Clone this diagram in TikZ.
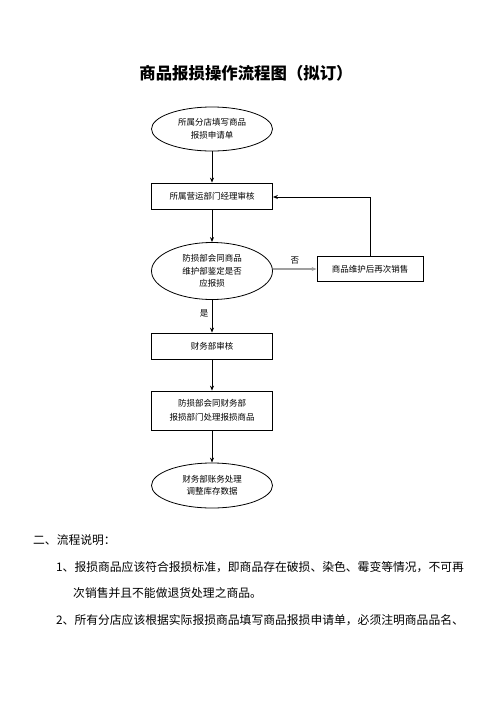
\documentclass[tikz,border=0pt]{standalone}
\usepackage{fontspec}
\usepackage{tikz}
\usetikzlibrary{shapes.geometric,arrows.meta}
\setmainfont{Noto Sans CJK SC}

\begin{document}
\begin{tikzpicture}[x=1pt,y=-1pt,
    stepbox/.style={draw,thick,rectangle,minimum width=121pt,inner sep=0pt,align=center,
        font=\fontsize{8.5}{12.5}\selectfont},
    oval/.style={draw,thick,ellipse,minimum width=121pt,inner sep=0pt,align=center,
        font=\fontsize{8.5}{12.5}\selectfont},
    flow/.style={thick,-{Stealth[length=5pt,width=4pt]}},
    para/.style={anchor=west,inner sep=0pt,font=\fontsize{11.8}{14}\selectfont}]
    \useasboundingbox (0,0) rectangle (496,702);
    \node (title) at (246,73) {\fontsize{16.4}{18}\selectfont\bfseries 商品报损操作流程图（拟订）};
    % flow chart
    \node[oval,minimum height=44pt] (apply) at (212,129) {所属分店填写商品\\报损申请单};
    \node[stepbox,minimum height=26pt] (manager) at (212,196) {所属营运部门经理审核};
    \node[oval,minimum height=57pt] (check) at (212,271) {防损部会同商品\\维护部鉴定是否\\应报损};
    \node[stepbox,minimum width=106pt,minimum height=25pt] (resell) at (370,269) {商品维护后再次销售};
    \node[stepbox,minimum height=26pt] (finance) at (212,346) {财务部审核};
    \node[stepbox,minimum height=39pt] (handle) at (212,410.5) {防损部会同财务部\\[2pt]报损部门处理报损商品};
    \node[oval,minimum height=45pt] (stock) at (212,485.5) {财务部账务处理\\调整库存数据};
    \draw[flow] (apply) -- (manager);
    \draw[flow] (manager) -- (check);
    \draw[flow,line width=1.3pt,gray!75] (check.east |- resell.west) -- node[above=1pt,black,font=\fontsize{8.5}{10}\selectfont] (no) {否} (resell.west);
    \draw[flow] (resell.north) |- (manager.east |- 0,197);
    \draw[flow] (check) -- node[left,pos=0.4,font=\fontsize{8.5}{10}\selectfont] (yes) {是} (finance);
    \draw[flow] (finance) -- (handle);
    \draw[flow] (handle) -- (stock);
    % description
    \node[para] (head) at (33,540) {二、流程说明：};
    \node[para] (item1a) at (56,567) {1、报损商品应该符合报损标准，即商品存在破损、染色、霉变等情况，不可再};
    \node[para] (item1b) at (73,593) {次销售并且不能做退货处理之商品。};
    \node[para] (item2) at (56,620) {2、所有分店应该根据实际报损商品填写商品报损申请单，必须注明商品品名、};
\end{tikzpicture}
\end{document}
